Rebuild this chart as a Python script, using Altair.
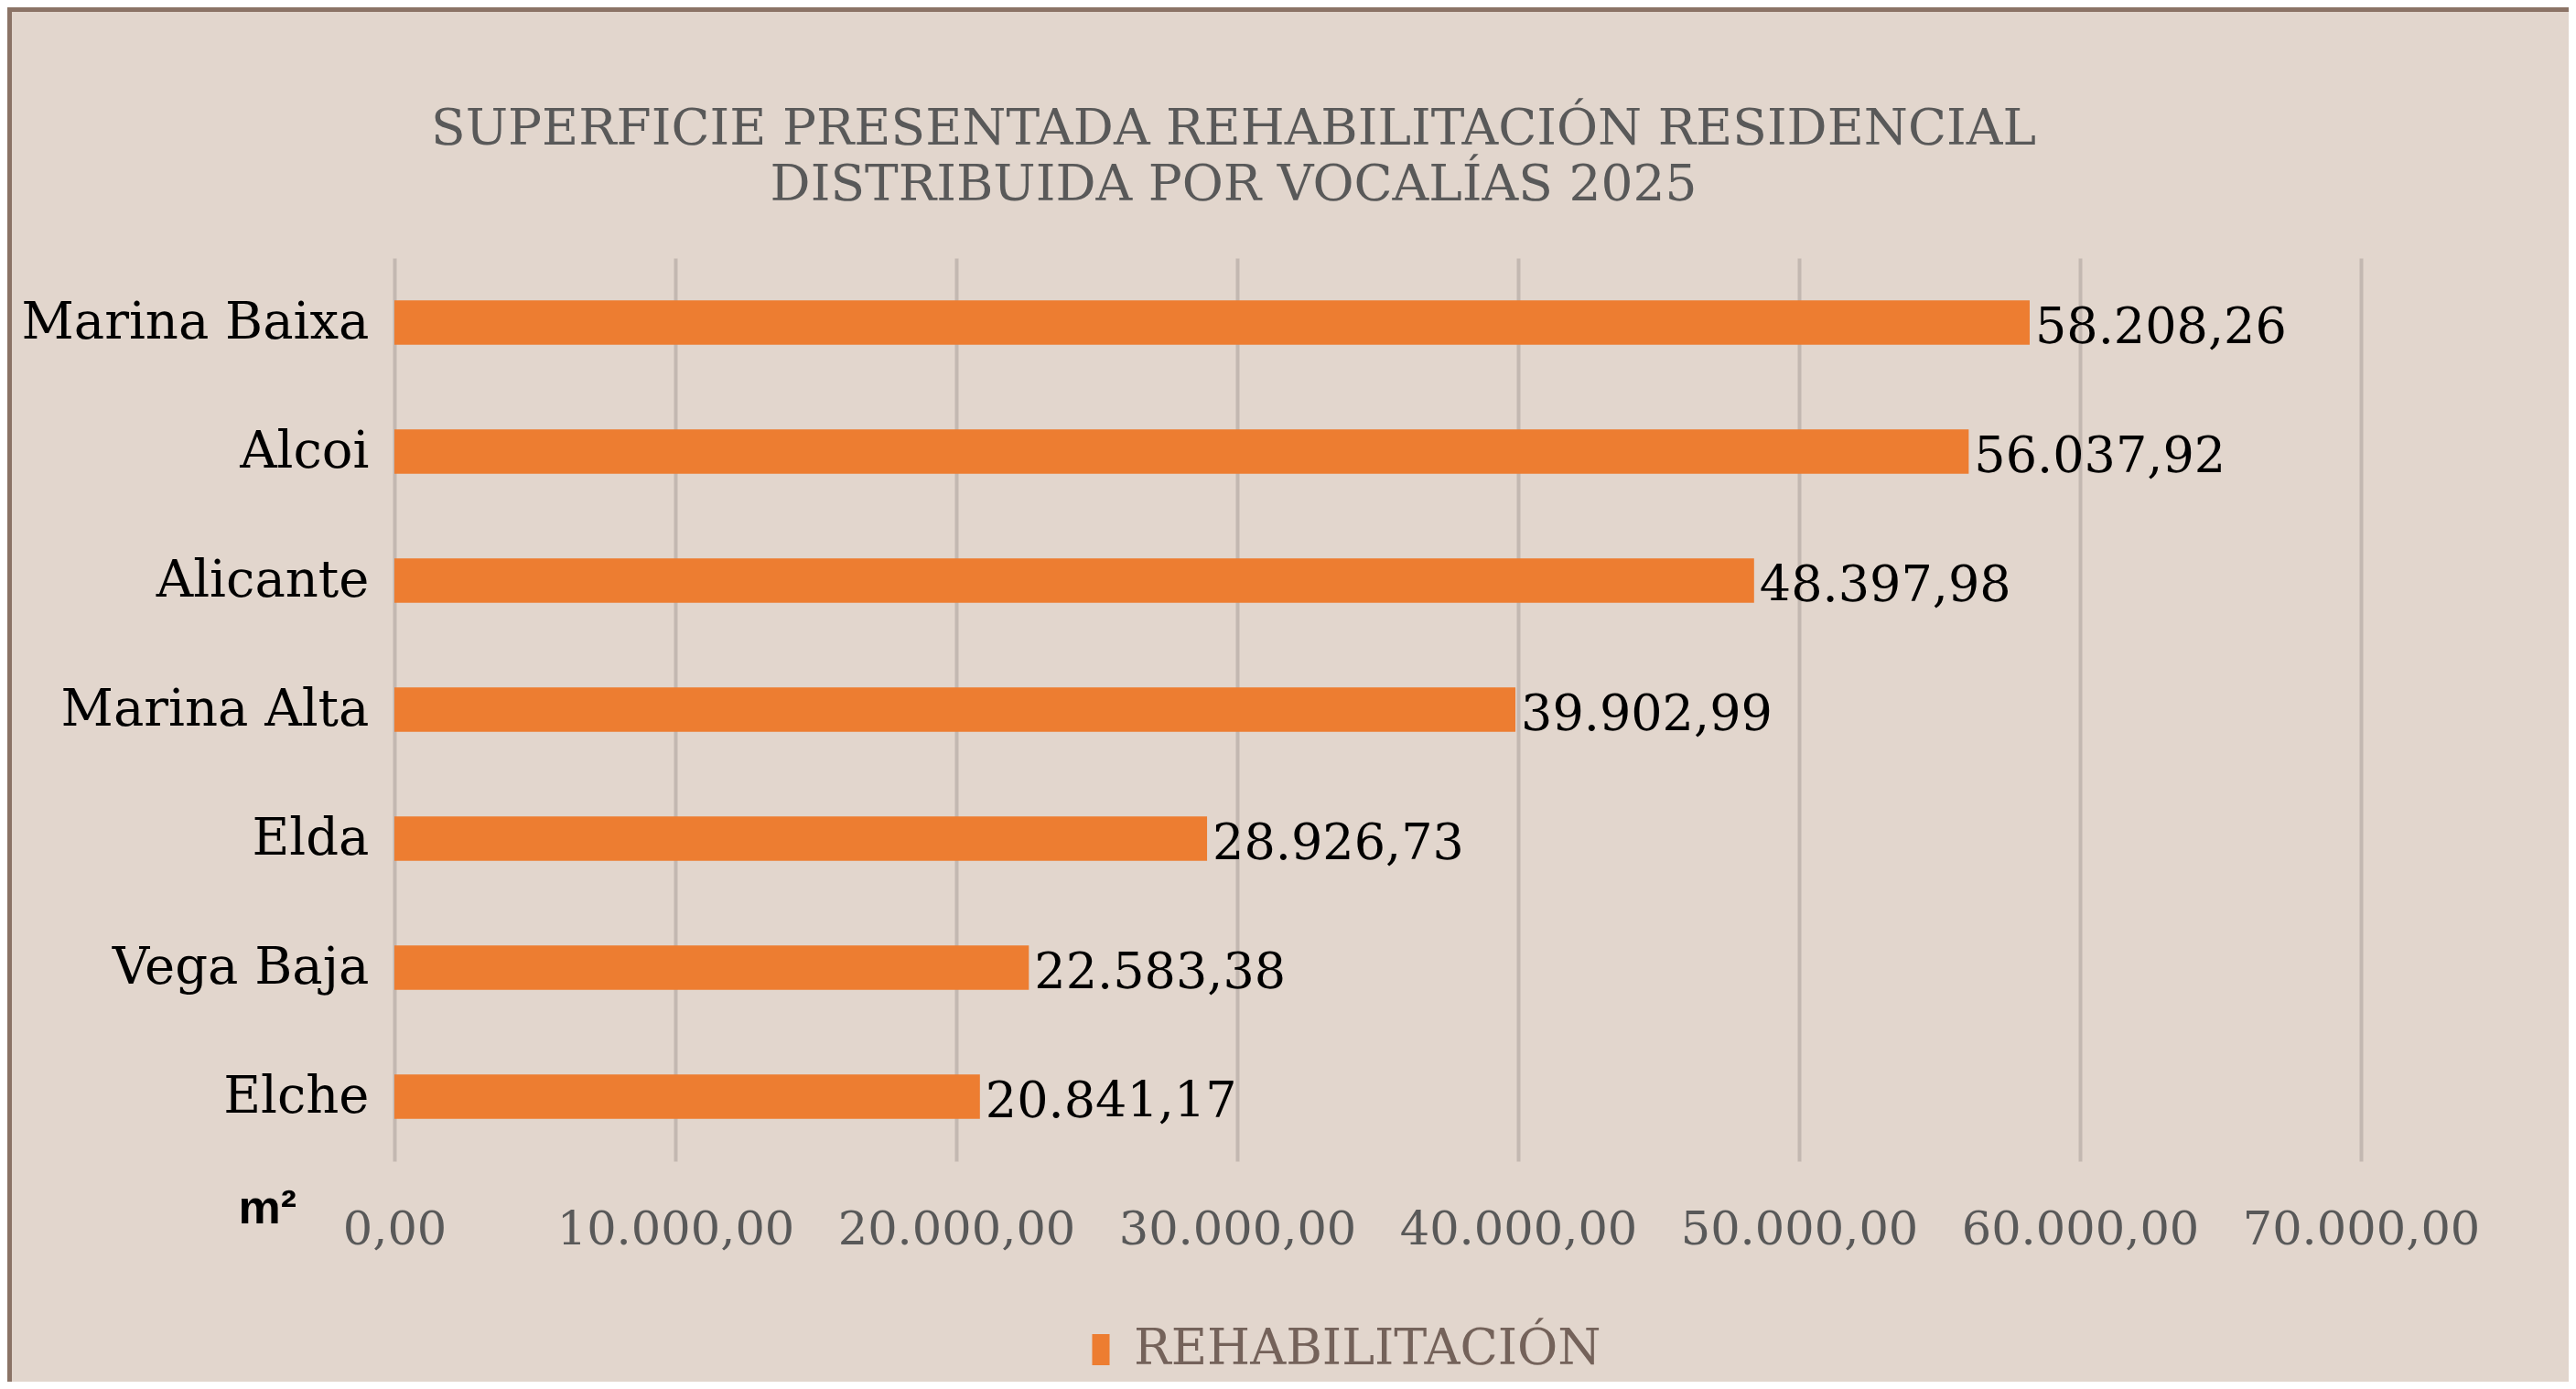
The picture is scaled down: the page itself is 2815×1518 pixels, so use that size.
import altair as alt
import pandas as pd

# ---- data ----
categories = ["Marina Baixa", "Alcoi", "Alicante", "Marina Alta", "Elda", "Vega Baja", "Elche"]
values = [58208.26, 56037.92, 48397.98, 39902.99, 28926.73, 22583.38, 20841.17]
series_name = "REHABILITACIÓN"
x_ticks = [0, 10000, 20000, 30000, 40000, 50000, 60000, 70000]
title_lines = ["SUPERFICIE PRESENTADA REHABILITACIÓN RESIDENCIAL", "DISTRIBUIDA POR VOCALÍAS 2025"]
unit_label = "m²"

df = pd.DataFrame({"vocalia": categories, "superficie": values, "serie": [series_name] * len(categories)})

# ---- layout ----
TOTAL_W, TOTAL_H = 2799, 1502
PL, PT = 423, 274
W, H = 2149, 987
PR = TOTAL_W - PL - W
PB = TOTAL_H - PT - H

BG = "#E2D6CD"
BROWN = "#8B7366"
ORANGE = "#ED7D31"
GRID = "#C3B8B1"

y_enc = alt.Y(
    "vocalia:N",
    sort=categories,
    scale=alt.Scale(paddingInner=0.655, paddingOuter=0.3275),
    axis=alt.Axis(
        title=None, domain=False, ticks=False,
        labelFont="DejaVu Serif", labelFontSize=56, labelColor="#000000",
        labelPadding=28, labelLimit=1000,
    ),
)
x_enc = alt.X(
    "superficie:Q",
    scale=alt.Scale(domain=[0, 70000], nice=False),
    axis=alt.Axis(
        values=x_ticks, format=",.2f",
        title=unit_label, titleFont="Liberation Sans", titleFontSize=52,
        titleFontWeight="bold", titleColor="#000000",
        titleX=-171, titleY=51, titleAlign="left", titleBaseline="middle", titleAngle=0,
        grid=True, gridColor=GRID, gridWidth=4,
        domain=False, ticks=False,
        labelFont="DejaVu Serif", labelFontSize=51, labelColor="#595959",
        labelPadding=50, labelFlush=False, labelLimit=1000, labelOverlap=False,
    ),
)

base = alt.Chart(df)

bars = base.mark_bar().encode(
    y=y_enc,
    x=x_enc,
    color=alt.Color(
        "serie:N",
        scale=alt.Scale(domain=[series_name], range=[ORANGE]),
        legend=alt.Legend(
            title=None, orient="none", legendX=745, legendY=1166,
            symbolType="M-0.56,-1L0.56,-1L0.56,1L-0.56,1Z", symbolSize=1156,
            symbolStrokeWidth=0, symbolOpacity=1,
            labelFont="DejaVu Serif", labelFontSize=54, labelColor="#74625A",
            labelOffset=9, padding=0, labelLimit=1000,
        ),
    ),
)

labels = base.mark_text(
    align="left", baseline="middle", dx=6, dy=6,
    font="DejaVu Serif", fontSize=54, color="#000000",
).encode(
    y=alt.Y("vocalia:N", sort=categories),
    x=alt.X("superficie:Q"),
    text=alt.Text("superficie:Q", format=",.2f"),
)

deco = pd.DataFrame({"k": [0]})
top_strip = alt.Chart(deco).mark_rect(color=BROWN).encode(
    x=alt.value(-PL), x2=alt.value(TOTAL_W - PL),
    y=alt.value(-PT), y2=alt.value(-PT + 5),
)
left_strip = alt.Chart(deco).mark_rect(color=BROWN).encode(
    x=alt.value(-PL), x2=alt.value(-PL + 5),
    y=alt.value(-PT), y2=alt.value(TOTAL_H - PT),
)
title_text = alt.Chart(deco).mark_text(
    font="DejaVu Serif", fontSize=55, color="#595959", align="center",
    baseline="alphabetic", lineHeight=61,
).encode(
    x=alt.value(917), y=alt.value(-124), text=alt.value(title_lines),
)

chart = alt.layer(top_strip, left_strip, title_text, bars, labels).properties(
    width=W,
    height=H,
    background=BG,
    padding={"left": PL, "top": PT, "right": PR, "bottom": PB},
    autosize=alt.AutoSizeParams(type="none"),
).configure(
    locale={"number": {"decimal": ",", "thousands": ".", "grouping": [3], "currency": ["", " €"]}}
).configure_view(strokeOpacity=0)

chart.save("out.html", embed_options={"renderer": "svg", "actions": False})
